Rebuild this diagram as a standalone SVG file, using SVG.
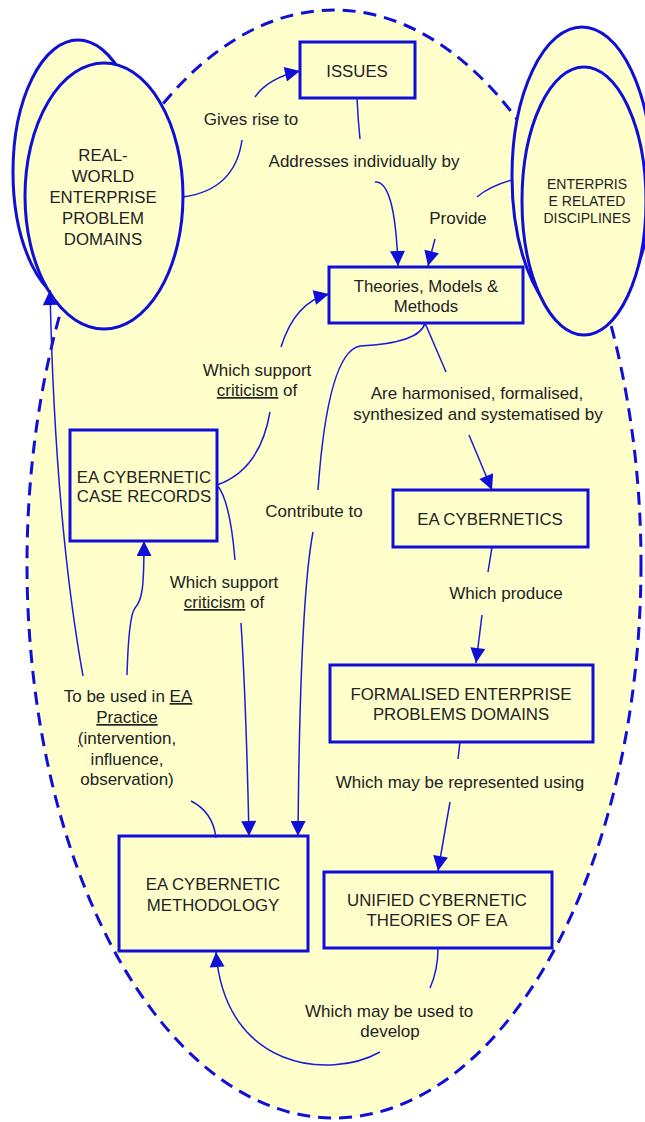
<svg xmlns="http://www.w3.org/2000/svg" width="645" height="1122" viewBox="0 0 645 1122">
<style>
.bg{fill:#fff}
.area{fill:#FFFFCC;stroke:#0f0fd8;stroke-width:3;stroke-dasharray:13,8}
.ell{fill:#FFFFCC;stroke:#0f0fd8;stroke-width:3}
.box{fill:#FFFFCC;stroke:#0f0fd8;stroke-width:3}
text{font-family:"Liberation Sans",Arial,sans-serif;fill:#222;text-anchor:middle}
.n{font-size:16.8px}
.s{font-size:14px}
.l{font-size:17px}
.c{fill:none;stroke:#1a1ad8;stroke-width:1.5}
.u{text-decoration:underline}
</style>
<defs>
<marker id="arr" viewBox="0 0 10 10" refX="10" refY="5" markerWidth="17" markerHeight="15" markerUnits="userSpaceOnUse" orient="auto">
<path d="M0,0 L10,5 L0,10 z" fill="#0f0fd8"/>
</marker>
</defs>
<rect class="bg" x="0" y="0" width="645" height="1122"/>
<ellipse class="area" cx="334" cy="564" rx="307" ry="554"/>

<g id="real-world">
<ellipse class="ell" cx="78" cy="172" rx="65" ry="132"/>
<ellipse class="ell" cx="104" cy="196" rx="79" ry="133"/>
<text class="n"><tspan x="103" y="161">REAL-</tspan><tspan x="103" y="182">WORLD</tspan><tspan x="103" y="203">ENTERPRISE</tspan><tspan x="103" y="224">PROBLEM</tspan><tspan x="103" y="245">DOMAINS</tspan></text>
</g>

<g id="disciplines">
<ellipse class="ell" cx="582" cy="176" rx="70" ry="149"/>
<ellipse class="ell" cx="584" cy="201" rx="62" ry="134"/>
<text class="s"><tspan x="587" y="189">ENTERPRIS</tspan><tspan x="587" y="206">E RELATED</tspan><tspan x="587" y="223">DISCIPLINES</tspan></text>
</g>

<g id="issues">
<rect class="box" x="300" y="42" width="115" height="56"/>
<text class="n" x="357" y="77">ISSUES</text>
</g>

<g id="theories">
<rect class="box" x="329" y="267" width="194" height="56"/>
<text class="n"><tspan x="426" y="292">Theories, Models &amp;</tspan><tspan x="426" y="312">Methods</tspan></text>
</g>

<g id="case-records">
<rect class="box" x="70" y="430" width="147" height="111"/>
<text class="n"><tspan x="144" y="483">EA CYBERNETIC</tspan><tspan x="144" y="502">CASE RECORDS</tspan></text>
</g>

<g id="ea-cybernetics">
<rect class="box" x="393" y="490" width="195" height="57"/>
<text class="n" x="490" y="525">EA CYBERNETICS</text>
</g>

<g id="formalised">
<rect class="box" x="330" y="665" width="263" height="77"/>
<text class="n"><tspan x="461" y="700">FORMALISED ENTERPRISE</tspan><tspan x="461" y="720">PROBLEMS DOMAINS</tspan></text>
</g>

<g id="unified">
<rect class="box" x="324" y="872" width="228" height="76"/>
<text class="n"><tspan x="437" y="906">UNIFIED CYBERNETIC</tspan><tspan x="437" y="926">THEORIES OF EA</tspan></text>
</g>

<g id="methodology">
<rect class="box" x="119" y="836" width="189" height="115"/>
<text class="n"><tspan x="213" y="890">EA CYBERNETIC</tspan><tspan x="213" y="911">METHODOLOGY</tspan></text>
</g>

<g id="connectors">
<path class="c" d="M183,197 Q235,190 242,140"/>
<path class="c" d="M255,97 Q268,78 300,71" marker-end="url(#arr)"/>
<path class="c" d="M357,98 Q358,120 360,139"/>
<path class="c" d="M375,182 Q395,180 398,266" marker-end="url(#arr)"/>
<path class="c" d="M512,180 Q490,186 477,197"/>
<path class="c" d="M435,239 Q432,250 428,266" marker-end="url(#arr)"/>
<path class="c" d="M217,485 Q260,470 270,412"/>
<path class="c" d="M281,347 Q295,302 329,294" marker-end="url(#arr)"/>
<path class="c" d="M217,485 Q230,500 235,560"/>
<path class="c" d="M241,623 Q246,700 249,836" marker-end="url(#arr)"/>
<path class="c" d="M425,323 Q420,343 360,346 Q328,352 318,490"/>
<path class="c" d="M313,532 Q300,600 298,836" marker-end="url(#arr)"/>
<path class="c" d="M425,323 L446,372"/>
<path class="c" d="M469,435 L492,490" marker-end="url(#arr)"/>
<path class="c" d="M492,547 L488,572"/>
<path class="c" d="M482,615 L476,663" marker-end="url(#arr)"/>
<path class="c" d="M460,742 L458,759"/>
<path class="c" d="M450,802 L438,871" marker-end="url(#arr)"/>
<path class="c" d="M438,948 Q438,970 430,988"/>
<path class="c" d="M380,1052 C330,1080 225,1070 216,952" marker-end="url(#arr)"/>
<path class="c" d="M216,838 Q213,812 191,801"/>
<path class="c" d="M83,676 Q55,520 50,290" marker-end="url(#arr)"/>
<path class="c" d="M127,675 C128,640 130,614 135,608 C142,600 144,590 144,541" marker-end="url(#arr)"/>
</g>

<g id="labels">
<text class="l" x="251" y="125">Gives rise to</text>
<text class="l" x="364" y="167">Addresses individually by</text>
<text class="l" x="458" y="224">Provide</text>
<text class="l"><tspan x="257" y="376">Which support</tspan><tspan x="257" y="396"><tspan class="u">criticism</tspan> of</tspan></text>
<text class="l" x="314" y="517">Contribute to</text>
<text class="l"><tspan x="224" y="588">Which support</tspan><tspan x="224" y="608"><tspan class="u">criticism</tspan> of</tspan></text>
<text class="l"><tspan x="477" y="399">Are harmonised, formalised,</tspan><tspan x="478" y="420">synthesized and systematised by</tspan></text>
<text class="l" x="506" y="599">Which produce</text>
<text class="l"><tspan x="128" y="702">To be used in <tspan class="u">EA</tspan></tspan><tspan x="127" y="723" class="u">Practice</tspan><tspan x="127" y="744"><tspan class="u">(</tspan>intervention,</tspan><tspan x="127" y="765">influence,</tspan><tspan x="127" y="785">observation)</tspan></text>
<text class="l" x="460" y="788">Which may be represented using</text>
<text class="l"><tspan x="389" y="1017">Which may be used to</tspan><tspan x="390" y="1037">develop</tspan></text>
</g>
</svg>
